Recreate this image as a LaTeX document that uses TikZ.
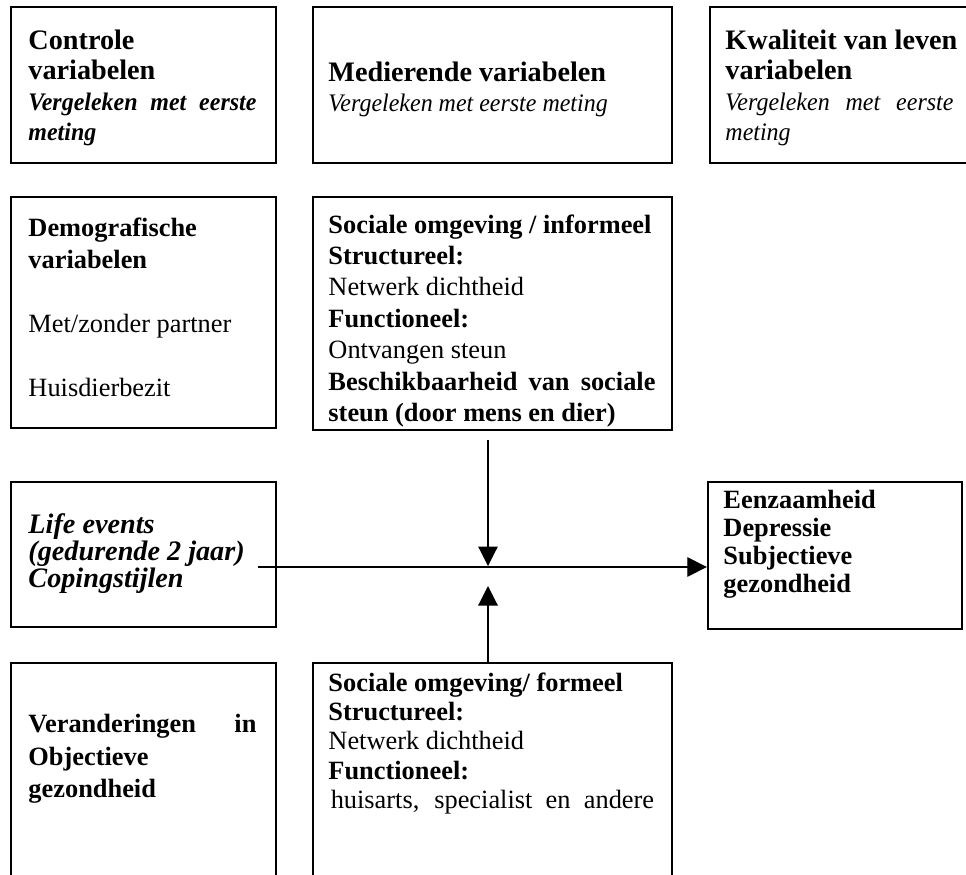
\documentclass[tikz,border=0pt]{standalone}
\usepackage{fontspec}
\setmainfont{Liberation Serif}
\newfontfamily\condserif[FakeStretch=0.95]{Liberation Serif}
\usetikzlibrary{arrows.meta,fit}
\newcommand{\smitA}{\condserif\fontsize{11}{13.3}\selectfont}
\begin{document}
\begin{tikzpicture}[x=0.436pt,y=-0.436pt,
  box/.style={draw, line width=1pt, inner sep=0pt},
  txt/.style={anchor=north west, inner sep=0pt, align=flush left, font=\fontsize{11.5}{#1}\selectfont},
  bigtxt/.style={anchor=north west, inner sep=0pt, align=flush left, font=\fontsize{12.3}{#1}\selectfont},
  arr/.style={line width=0.5pt, -{Triangle[length=8.5pt,width=8.5pt]}}]
\clip (0,0) rectangle (966,875);
\fill[white] (0,0) rectangle (966,875);
% top row
\node[box, fit={(11,7) (276,163)}] (b1) {};
\node[box, fit={(313,7) (672,163)}] (b2) {};
\node[box, fit={(710,7) (990,163)}] (b3) {};
\node[bigtxt=13.3pt, text width=99.4pt] (t1) at (28,29) {\textbf{Controle}\\\textbf{variabelen}\\{\smitA\makebox[99.4pt][s]{\textbf{\textit{Vergeleken met eerste}}}}\\{\smitA\textbf{\textit{meting}}}};
\node[bigtxt=13.3pt, text width=142.6pt] (t2) at (328,61) {\textbf{Medierende variabelen}\\{\smitA\textit{Vergeleken met eerste meting}}};
\node[bigtxt=13.3pt, text width=105pt] (t3) at (725,29) {\textbf{Kwaliteit van leven}\\\textbf{variabelen}\\{\smitA\makebox[99.4pt][s]{\textit{Vergeleken met eerste}}}\\{\smitA\textit{meting}}};
% second row
\node[box, fit={(11,197) (276,428)}] (b4) {};
\node[box, fit={(313,197) (672,430)}] (b5) {};
\node[txt=13.95pt, text width=99.4pt] (t4) at (28,217) {\textbf{Demografische}\\\textbf{variabelen}\\\mbox{}\\Met/zonder partner\\\mbox{}\\Huisdierbezit};
\node[txt=13.7pt, text width=142.6pt] (t5) at (328,214) {\mbox{\textbf{Sociale omgeving / informeel}}\\\textbf{Structureel:}\\Netwerk dichtheid\\\textbf{Functioneel:}\\Ontvangen steun\\\makebox[142.6pt][s]{\textbf{Beschikbaarheid van sociale}}\\\mbox{\textbf{steun (door mens en dier)}}};
% middle row
\node[box, fit={(11,482) (276,627)}] (b7) {};
\node[box, fit={(708,482) (962,629)}] (out) {};
\node[bigtxt=11.8pt, text width=99.4pt] (t7) at (28,513) {\textbf{\textit{Life events}}\\\textbf{\textit{(gedurende 2 jaar)}}\\\textbf{\textit{Copingstijlen}}};
\node[txt=12.1pt, text width=100pt] (to) at (723,490) {\textbf{Eenzaamheid}\\\textbf{Depressie}\\\textbf{Subjectieve}\\\textbf{gezondheid}};
% bottom row
\node[box, fit={(11,663) (276,900)}] (b8) {};
\node[box, fit={(313,663) (672,900)}] (b6) {};
\node[txt=14.2pt, text width=99.4pt] (t8) at (28,714) {\makebox[99.4pt][s]{\textbf{Veranderingen in}}\\\textbf{Objectieve}\\\textbf{gezondheid}};
\node[txt=12.8pt, text width=142.6pt] (t6) at (328,672) {\mbox{\textbf{Sociale omgeving/ formeel}}\\\textbf{Structureel:}\\Netwerk dichtheid\\\textbf{Functioneel:}\\\hspace*{1pt}\makebox[141pt][s]{huisarts, specialist en andere}};
% connectors
\coordinate (dstart) at (488,440);
\coordinate (dtip) at (488,566);
\coordinate (utip) at (488,586);
\coordinate (hstart) at (258,567);
\draw[arr] (dstart) -- (dtip);
\draw[arr] (dstart |- b6.north) -- (utip);
\draw[arr] (hstart) -- (hstart -| out.west);
\end{tikzpicture}
\end{document}
